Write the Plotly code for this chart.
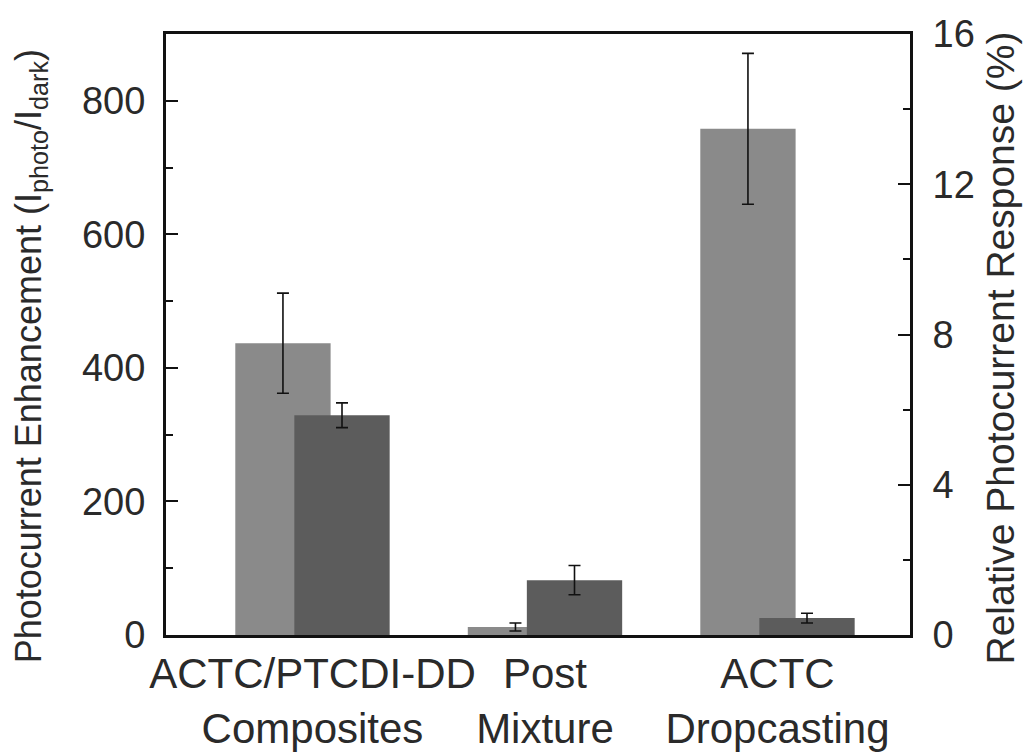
import plotly.graph_objects as go

categories = ["ACTC/PTCDI-DD<br>Composites", "Post<br>Mixture", "ACTC<br>Dropcasting"]
enhancement = [437, 12, 758]          # left axis (I_photo/I_dark)
enhancement_err = [75, 6, 113]
response = [5.85, 1.46, 0.45]         # right axis (%)
response_err = [0.33, 0.39, 0.13]

left_title = "Photocurrent Enhancement (I<sub>photo</sub>/I<sub>dark</sub>)"
right_title = "Relative Photocurrent Response (%)"

xpos = list(range(len(categories)))
BW = 0.41
SHIFT = 0.127
FONT = "Liberation Sans, Arial, sans-serif"
TXT = "#2a2a2a"

fig = go.Figure()
fig.add_trace(go.Bar(
    x=xpos, y=enhancement, width=BW, offset=-SHIFT - BW / 2,
    marker=dict(color="#8a8a8a", line=dict(width=0)),
    error_y=dict(type="data", array=enhancement_err, color="#111", thickness=1.6, width=6),
    yaxis="y", showlegend=False,
))
fig.add_trace(go.Bar(
    x=xpos, y=response, width=BW, offset=SHIFT - BW / 2,
    marker=dict(color="#5c5c5c", line=dict(width=0)),
    error_y=dict(type="data", array=response_err, color="#111", thickness=1.6, width=6),
    yaxis="y2", showlegend=False,
))

fig.update_layout(
    width=1033, height=755,
    margin=dict(l=158, r=131, t=26, b=128),
    paper_bgcolor="white", plot_bgcolor="white",
    barmode="overlay",
    font=dict(family=FONT, color=TXT, size=38),
    xaxis=dict(
        range=[-0.63, 2.57], tickvals=xpos, ticktext=categories,
        showline=True, linecolor="#111", linewidth=3, mirror=True,
        ticks="", showgrid=False, zeroline=False, automargin=False,
        tickangle=0, tickfont=dict(size=42, color=TXT),
    ),
    yaxis=dict(
        range=[0, 900], tickvals=[0, 200, 400, 600, 800],
        showline=True, linecolor="#111", linewidth=3,
        ticks="inside", ticklen=12, tickwidth=2, tickcolor="#111",
        minor=dict(dtick=100, ticks="inside", ticklen=7, tickwidth=2, tickcolor="#111"),
        showgrid=False, zeroline=False, automargin=False,
        tickfont=dict(size=38, color=TXT),
        ticklabelstandoff=10,
    ),
    yaxis2=dict(
        range=[0, 16], tickvals=[0, 4, 8, 12, 16], overlaying="y", side="right",
        showline=True, linecolor="#111", linewidth=3,
        ticks="inside", ticklen=12, tickwidth=2, tickcolor="#111",
        minor=dict(dtick=2, ticks="inside", ticklen=7, tickwidth=2, tickcolor="#111"),
        showgrid=False, zeroline=False, automargin=False,
        tickfont=dict(size=38, color=TXT),
        ticklabelstandoff=12,
    ),
    annotations=[
        dict(text=left_title, textangle=-90, xref="paper", yref="paper",
             x=-0.182, y=0.463, xanchor="center", yanchor="middle",
             showarrow=False, font=dict(size=36, color=TXT)),
        dict(text=right_title, textangle=-90, xref="paper", yref="paper",
             x=1.122, y=0.478, xanchor="center", yanchor="middle",
             showarrow=False, font=dict(size=39, color=TXT)),
    ],
)

fig.write_html("out.html")
